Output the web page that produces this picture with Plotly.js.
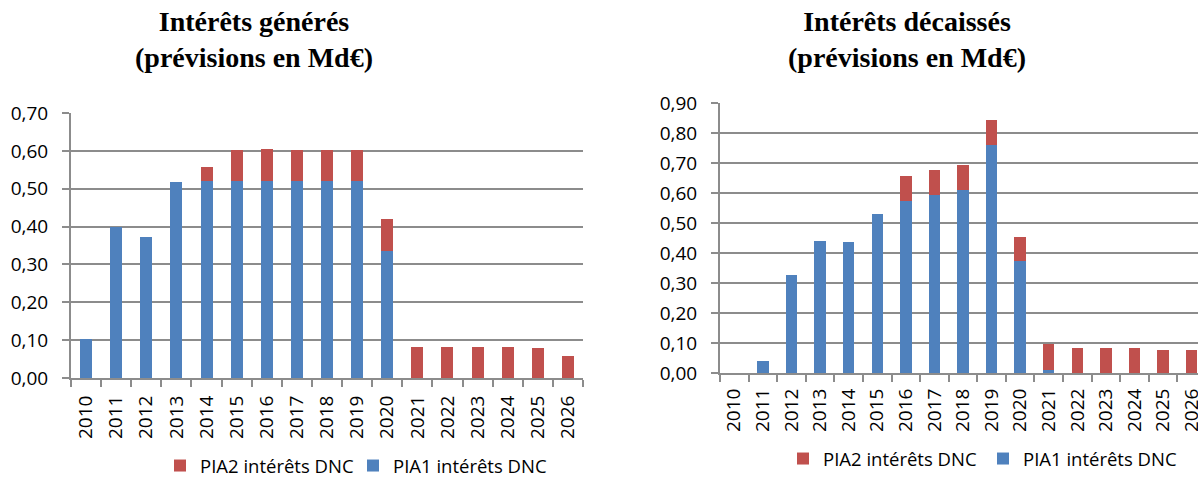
<!DOCTYPE html>
<html>
<head>
<meta charset="utf-8">
<script src="https://cdn.plot.ly/plotly-3.0.1.min.js"></script>
<style>
html, body { margin: 0; padding: 0; overflow: hidden; background: #fff; }
#chart { width: 1210px; height: 479px; }
</style>
</head>
<body>
<div id="chart"></div>
<script>
const years = ['2010','2011','2012','2013','2014','2015','2016','2017','2018','2019','2020','2021','2022','2023','2024','2025','2026'];

// Intérêts générés (Md€)
const generesPIA1 = [0.103, 0.399, 0.372, 0.517, 0.520, 0.520, 0.520, 0.520, 0.520, 0.520, 0.335, 0, 0, 0, 0, 0, 0];
const generesPIA2 = [0, 0, 0, 0, 0.037, 0.082, 0.085, 0.082, 0.082, 0.082, 0.084, 0.082, 0.082, 0.082, 0.082, 0.078, 0.058];

// Intérêts décaissés (Md€)
const decaissesPIA1 = [0, 0.041, 0.326, 0.439, 0.438, 0.530, 0.572, 0.592, 0.610, 0.760, 0.372, 0.011, 0, 0, 0, 0, 0];
const decaissesPIA2 = [0, 0, 0, 0, 0, 0, 0.086, 0.084, 0.082, 0.083, 0.083, 0.086, 0.082, 0.082, 0.082, 0.078, 0.078];

const seriesNames = ['PIA1 intérêts DNC', 'PIA2 intérêts DNC'];
const titles = ['Intérêts générés<br>(prévisions en Md€)', 'Intérêts décaissés<br>(prévisions en Md€)'];

const BLUE = '#4F81BD', RED = '#C0504D', GRID = '#8C8C8C';
const W = 1210, H = 479, MB = 40;
const HP = H - MB;           // plotting-area height (paper)
const py = (p) => (HP - p) / HP;   // pixel-from-top -> paper y

const traces = [
  {type: 'bar', x: years, y: generesPIA1, name: seriesNames[0], xaxis: 'x', yaxis: 'y', marker: {color: BLUE}, legend: 'legend', legendwidth: 175},
  {type: 'bar', x: years, y: generesPIA2, name: seriesNames[1], xaxis: 'x', yaxis: 'y', marker: {color: RED}, legend: 'legend', legendwidth: 148},
  {type: 'bar', x: years, y: decaissesPIA1, name: seriesNames[0], xaxis: 'x2', yaxis: 'y2', marker: {color: BLUE}, legend: 'legend2', legendwidth: 175},
  {type: 'bar', x: years, y: decaissesPIA2, name: seriesNames[1], xaxis: 'x2', yaxis: 'y2', marker: {color: RED}, legend: 'legend2', legendwidth: 155}
];

const tickFont = {family: 'Open Sans, sans-serif', size: 19, color: '#000'};

function xAxis(d0, d1, anchor, standoff) {
  return {
    domain: [d0 / W, d1 / W], anchor: anchor, type: 'category', range: [-0.5, 16.5],
    showline: true, linecolor: GRID, linewidth: 2, ticks: 'outside', tickson: 'boundaries',
    ticklen: 7, tickwidth: 2, tickcolor: GRID, tickangle: -90, tickfont: tickFont,
    ticklabelstandoff: standoff, showgrid: false, fixedrange: true, automargin: false
  };
}
function yAxis(top, bottom, max, anchor) {
  return {
    domain: [py(bottom), py(top)], anchor: anchor, range: [0, max], dtick: 0.1,
    tickformat: '.2f', showline: true, linecolor: GRID, linewidth: 2, ticks: 'outside',
    ticklen: 7, tickwidth: 2, tickcolor: GRID, showgrid: true, gridcolor: GRID, gridwidth: 2,
    zeroline: false, tickfont: tickFont, ticklabelstandoff: 10, fixedrange: true, automargin: false
  };
}

const legendBase = {
  orientation: 'h', traceorder: 'reversed', font: {family: 'Open Sans, sans-serif', size: 18.5, color: '#000'},
  xanchor: 'left', yanchor: 'middle', bgcolor: 'rgba(0,0,0,0)', itemclick: false, itemdoubleclick: false,
  entrywidthmode: 'pixels'
};

const titleFont = {family: 'Liberation Serif, Times New Roman, serif', size: 28, color: '#000', weight: 'bold'};

const layout = {
  width: W, height: H, margin: {l: 0, r: 0, t: 0, b: MB, autoexpand: false},
  paper_bgcolor: '#fff', plot_bgcolor: '#fff',
  barmode: 'stack', bargap: 0.6, separators: ', ', showlegend: true,
  xaxis: xAxis(71, 583, 'y', 8),
  yaxis: yAxis(113, 378, 0.70, 'x'),
  xaxis2: xAxis(720, 1206, 'y2', 6),
  yaxis2: yAxis(103, 373, 0.90, 'x2'),
  legend: Object.assign({}, legendBase, {x: 160 / W, y: py(466)}),
  legend2: Object.assign({}, legendBase, {x: 783 / W, y: py(459)}),
  annotations: [
    {xref: 'paper', yref: 'paper', x: 254 / W, y: py(39), xanchor: 'center', yanchor: 'middle',
     showarrow: false, text: titles[0], font: titleFont},
    {xref: 'paper', yref: 'paper', x: 907 / W, y: py(39), xanchor: 'center', yanchor: 'middle',
     showarrow: false, text: titles[1], font: titleFont}
  ]
};

Plotly.newPlot('chart', traces, layout, {staticPlot: true, displayModeBar: false});
</script>
</body>
</html>
